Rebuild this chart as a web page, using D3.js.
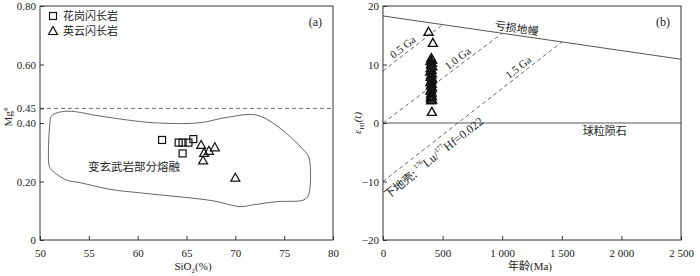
<!DOCTYPE html>
<html>
<head>
<meta charset="utf-8">
<script src="https://cdn.jsdelivr.net/npm/d3@7"></script>
<style>
  body { margin: 0; background: #fff; }
  text { font-family: "Liberation Serif", "DejaVu Serif", serif; fill: #222; }
  .cjk { font-family: "Noto Sans CJK SC", sans-serif; }
  .axis path { display: none; }
  .axis line { stroke: #333; }
</style>
</head>
<body>
<div id="graph"></div>
<script>
// panel (a): SiO2 vs Mg#
var granoSiO2 = [62.5, 64.2, 64.6, 65.2, 65.7, 64.6]
var granoMg   = [0.342, 0.333, 0.333, 0.333, 0.345, 0.296]
var tonaSiO2  = [66.5, 66.8, 67.3, 67.9, 66.7, 70.0]
var tonaMg    = [0.325, 0.298, 0.305, 0.317, 0.272, 0.213]
// outline of the metabasalt partial melting field
var fieldSiO2 = [51.0, 51.2, 52.0, 53.2, 56.1, 61.6, 66.4, 69.1, 72.5, 77.3, 77.6, 77.5, 77.0, 74.2, 71.8, 70.5, 69.5, 67.7, 60.6, 57.2, 54.1, 52.7, 51.2, 50.95]
var fieldMg   = [0.393, 0.425, 0.437, 0.440, 0.424, 0.401, 0.401, 0.419, 0.424, 0.296, 0.274, 0.154, 0.137, 0.131, 0.120, 0.114, 0.120, 0.134, 0.160, 0.173, 0.196, 0.205, 0.239, 0.252]
var xTicksA = [50, 55, 60, 65, 70, 75, 80]
var yTicksA = [0, 0.20, 0.40, 0.45, 0.60, 0.80]

// panel (b): age vs eHf(t)
var zirconAge = [382, 418, 405, 412, 398, 410, 403, 414, 400, 408, 396, 411, 404, 400, 413, 406, 398, 409, 402, 411, 405, 399, 408, 403, 410, 401, 406, 412, 404, 410]
var zirconEHf = [15.6, 13.7, 11.1, 10.8, 10.6, 10.3, 10.0, 9.7, 9.4, 9.1, 8.8, 8.5, 8.2, 7.9, 7.6, 7.3, 7.0, 6.7, 6.4, 6.1, 5.8, 5.5, 5.2, 4.9, 4.6, 4.4, 4.2, 4.0, 3.9, 1.9]
var dmAge = [0, 2500], dmEHf = [18.3, 10.9]
var crustLines = [
  { name: '0.5 Ga', age: [0, 500],  eHf: [8.9, 16.82] },
  { name: '1.0 Ga', age: [0, 1000], eHf: [0.0, 15.34] },
  { name: '1.5 Ga', age: [0, 1500], eHf: [-10.0, 13.86] }
]
var xTicksB = [0, 500, 1000, 1500, 2000, 2500]
var yTicksB = [-20, -10, 0, 10, 20]

var svg = d3.select('#graph').append('svg')
  .attr('width', 700).attr('height', 276)

var line = d3.line()

function frame(x, y) {
  svg.append('rect')
    .attr('x', x.range()[0]).attr('y', y.range()[1])
    .attr('width', x.range()[1] - x.range()[0])
    .attr('height', y.range()[0] - y.range()[1])
    .attr('fill', 'none').attr('stroke', '#333').attr('stroke-width', 1)
}

function axes(x, y, xt, yt, xfmt, yfmt) {
  svg.append('g').attr('class', 'axis')
    .attr('transform', 'translate(0,' + y.range()[0] + ')')
    .call(d3.axisBottom(x).tickValues(xt).tickSizeInner(-4).tickSizeOuter(0).tickPadding(9).tickFormat(xfmt))
    .selectAll('text').attr('font-size', 11).attr('fill', '#222')
  svg.append('g').attr('class', 'axis')
    .attr('transform', 'translate(' + x.range()[0] + ',0)')
    .call(d3.axisLeft(y).tickValues(yt).tickSizeInner(-4).tickSizeOuter(0).tickPadding(4).tickFormat(yfmt))
    .selectAll('text').attr('font-size', 11).attr('fill', '#222')
}

function square(g, cx, cy) {
  g.append('rect').attr('x', cx - 3.5).attr('y', cy - 3.5).attr('width', 7).attr('height', 7)
    .attr('fill', 'none').attr('stroke', '#111').attr('stroke-width', 1.2)
}
function triangle(g, cx, cy, w) {
  g.append('path').attr('d', 'M' + cx + ',' + (cy - 4.5) + 'L' + (cx + 4.5) + ',' + (cy + 3.5) + 'L' + (cx - 4.5) + ',' + (cy + 3.5) + 'Z')
    .attr('fill', 'none').attr('stroke', '#111').attr('stroke-width', w || 1.2)
}

/*
  Panel (a)
*/
var xA = d3.scaleLinear().domain([50, 80]).range([40, 333])
var yA = d3.scaleLinear().domain([0, 0.8]).range([240, 6])

svg.append('path')
  .datum(fieldSiO2.map((d, i) => [xA(d), yA(fieldMg[i])]))
  .attr('d', d3.line().curve(d3.curveCatmullRomClosed.alpha(0.5)))
  .attr('fill', 'none').attr('stroke', '#555').attr('stroke-width', 0.9)

svg.append('line')
  .attr('x1', xA(50)).attr('x2', xA(80)).attr('y1', yA(0.45)).attr('y2', yA(0.45))
  .attr('stroke', '#444').attr('stroke-width', 0.8).attr('stroke-dasharray', '4,3')

frame(xA, yA)
axes(xA, yA, xTicksA, yTicksA, d3.format('d'), d => d == 0 ? '0' : d3.format('.2f')(d))

var gA = svg.append('g')
granoSiO2.forEach((d, i) => square(gA, xA(d), yA(granoMg[i])))
tonaSiO2.forEach((d, i) => triangle(gA, xA(d), yA(tonaMg[i])))

svg.append('text').attr('class', 'cjk').attr('x', 88).attr('y', 171)
  .attr('font-size', 11.5).attr('fill', '#444').text('变玄武岩部分熔融')

square(svg, 53, 16)
svg.append('text').attr('class', 'cjk').attr('x', 63).attr('y', 20).attr('font-size', 11).text('花岗闪长岩')
triangle(svg, 53, 31)
svg.append('text').attr('class', 'cjk').attr('x', 63).attr('y', 35).attr('font-size', 11).text('英云闪长岩')

svg.append('text').attr('x', 322).attr('y', 26).attr('text-anchor', 'end').attr('font-size', 12).text('(a)')

svg.append('text').attr('font-size', 11).attr('x', 193).attr('y', 270).attr('text-anchor', 'middle')
  .html('SiO<tspan font-size="7" dy="3">2</tspan><tspan dy="-3">(%)</tspan>')

svg.append('text').attr('font-size', 11).attr('transform', 'translate(12,117) rotate(-90)').attr('text-anchor', 'middle')
  .html('Mg<tspan font-size="7" dy="-4">#</tspan>')

/*
  Panel (b)
*/
var xB = d3.scaleLinear().domain([0, 2500]).range([383, 681])
var yB = d3.scaleLinear().domain([-20, 20]).range([240, 6])

svg.append('line')
  .attr('x1', xB(0)).attr('x2', xB(2500)).attr('y1', yB(0)).attr('y2', yB(0))
  .attr('stroke', '#555').attr('stroke-width', 1)

svg.append('path')
  .attr('d', line(dmAge.map((d, i) => [xB(d), yB(dmEHf[i])])))
  .attr('fill', 'none').attr('stroke', '#555').attr('stroke-width', 1)

svg.selectAll('path.crust').data(crustLines).join('path').attr('class', 'crust')
  .attr('d', c => line(c.age.map((d, i) => [xB(d), yB(c.eHf[i])])))
  .attr('fill', 'none').attr('stroke', '#444').attr('stroke-width', 0.8).attr('stroke-dasharray', '4,3')

// labels sitting along the lines; off < 0 puts the label above the line
function lineLabel(c, frac, off, txt, cls) {
  var x0 = xB(c.age[0]), y0 = yB(c.eHf[0]), x1 = xB(c.age[1]), y1 = yB(c.eHf[1])
  var ang = Math.atan2(y1 - y0, x1 - x0)
  var px = x0 + (x1 - x0) * frac - Math.sin(ang) * off
  var py = y0 + (y1 - y0) * frac + Math.cos(ang) * off
  return svg.append('text').attr('class', cls || null)
    .attr('transform', 'translate(' + px + ',' + py + ') rotate(' + ang * 180 / Math.PI + ')')
    .attr('text-anchor', 'middle').attr('dominant-baseline', 'central').attr('font-size', 11).text(txt)
}
lineLabel(crustLines[0], 0.40, -7, '0.5 Ga')
lineLabel(crustLines[1], 0.66, -7, '1.0 Ga')
lineLabel(crustLines[2], 0.78, -7, '1.5 Ga')
lineLabel({ age: dmAge, eHf: dmEHf }, 0.445, -8, '亏损地幔', 'cjk')

// lower crust label below the 1.5 Ga line
var lc = lineLabel(crustLines[2], 0.24, 12, '', 'cjk')
lc.attr('font-size', 11.5)
lc.append('tspan').text('下地壳: ')
lc.append('tspan').attr('font-family', 'Liberation Serif').attr('font-size', 6.5).attr('dy', -5).text('176')
lc.append('tspan').attr('font-family', 'Liberation Serif').attr('font-size', 12).attr('dy', 5).text('Lu/')
lc.append('tspan').attr('font-family', 'Liberation Serif').attr('font-size', 6.5).attr('dy', -5).text('177')
lc.append('tspan').attr('font-family', 'Liberation Serif').attr('font-size', 12).attr('dy', 5).text('Hf=0.022')

svg.append('text').attr('class', 'cjk').attr('x', xB(1860)).attr('y', yB(-2.0))
  .attr('text-anchor', 'middle').attr('font-size', 11).text('球粒陨石')

frame(xB, yB)
axes(xB, yB, xTicksB, yTicksB, d => d3.format(',')(d).replace(',', ' '), d3.format('d'))

var gB = svg.append('g')
zirconAge.forEach((d, i) => triangle(gB, xB(d), yB(zirconEHf[i]), 1.4))

svg.append('text').attr('x', 663).attr('y', 26).attr('text-anchor', 'middle').attr('font-size', 12).text('(b)')

svg.append('text').attr('font-size', 11).attr('x', 530).attr('y', 270).attr('text-anchor', 'middle')
  .html('<tspan font-family="Noto Sans CJK SC">年龄</tspan>(Ma)')

svg.append('text').attr('font-size', 11).attr('font-style', 'italic')
  .attr('transform', 'translate(361,123) rotate(-90)').attr('text-anchor', 'middle')
  .html('ε<tspan font-size="7" dy="3" font-style="normal">Hf</tspan><tspan dy="-3">(</tspan>t<tspan>)</tspan>')
</script>
</body>
</html>
